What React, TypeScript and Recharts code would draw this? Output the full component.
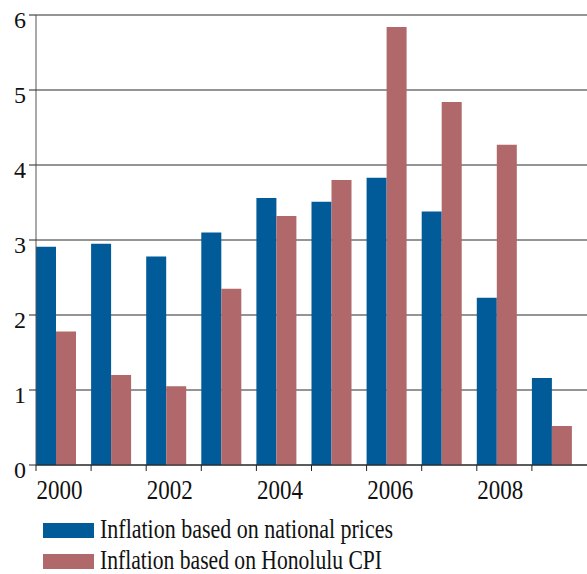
import React from "react";
import { BarChart, Bar, XAxis, YAxis, CartesianGrid } from "recharts";

const years = ["2000", "2001", "2002", "2003", "2004", "2005", "2006", "2007", "2008", "2009"];
const nationalPrices = [2.91, 2.95, 2.78, 3.1, 3.56, 3.51, 3.83, 3.38, 2.23, 1.16];
const honoluluCpi = [1.78, 1.2, 1.05, 2.35, 3.32, 3.8, 5.84, 4.84, 4.27, 0.52];
const yTicks = [0, 1, 2, 3, 4, 5, 6];

const BLUE = "#005B98";
const RED = "#B0686B";
const FONT = "Liberation Serif, DejaVu Serif, serif";

const W = 587;
const PLOT_LEFT = 36;
const BAND = (W - PLOT_LEFT) / years.length;

const data = years.map((year, i) => ({
  year,
  national: nationalPrices[i],
  honolulu: honoluluCpi[i],
  spacer: 0,
}));

const XTick = (props: any) => {
  const { x, y, payload, index } = props;
  const left = x - BAND / 2;
  return (
    <g>
      <line x1={left} x2={left} y1={y} y2={y + 6} stroke="#222" strokeWidth={1} />
      {index % 2 === 0 && (
        <text
          x={x - 27}
          y={y + 34}
          style={{ fontFamily: FONT, fontSize: 27 }}
          fill="#111"
          textLength={46}
          lengthAdjust="spacingAndGlyphs"
        >
          {payload.value}
        </text>
      )}
    </g>
  );
};

const YTick = (props: any) => {
  const { x, y, payload } = props;
  return (
    <text x={x} y={y + 13} textAnchor="end" style={{ fontFamily: FONT, fontSize: 24 }} fill="#111">
      {payload.value}
    </text>
  );
};

const legendItems = [
  { label: "Inflation based on national prices", color: BLUE, width: 293 },
  { label: "Inflation based on Honolulu CPI", color: RED, width: 282 },
];

export default function App() {
  return (
    <div style={{ position: "absolute", left: 0, top: 0, width: W, height: 574, background: "#fff" }}>
      <BarChart
        width={W}
        height={510}
        data={data}
        margin={{ top: 15, right: 0, left: 0, bottom: 0 }}
        barGap={0}
        barCategoryGap={0}
      >
        <CartesianGrid horizontal vertical={false} stroke="#2a2a2a" strokeWidth={1} />
        <XAxis
          dataKey="year"
          height={45}
          tickLine={false}
          tickSize={0}
          tickMargin={0}
          axisLine={{ stroke: "#222" }}
          tick={<XTick />}
          interval={0}
        />
        <YAxis
          width={PLOT_LEFT}
          domain={[0, 6]}
          ticks={yTicks}
          tickSize={7}
          tickMargin={3}
          tickLine={{ stroke: "#222" }}
          axisLine={{ stroke: "#555" }}
          tick={<YTick />}
          interval={0}
        />
        <Bar dataKey="national" fill={BLUE} barSize={20} isAnimationActive={false} />
        <Bar dataKey="honolulu" fill={RED} barSize={20} isAnimationActive={false} />
        <Bar dataKey="spacer" fill="none" barSize={15} isAnimationActive={false} legendType="none" />
      </BarChart>
      <svg width={W} height={64} style={{ position: "absolute", left: 0, top: 510 }}>
        {legendItems.map((item, i) => (
          <g key={item.label}>
            <rect x={43} y={13 + i * 31} width={51} height={15} fill={item.color} />
            <text
              x={100}
              y={28 + i * 31}
              style={{ fontFamily: FONT, fontSize: 27 }}
              fill="#111"
              textLength={item.width}
              lengthAdjust="spacingAndGlyphs"
            >
              {item.label}
            </text>
          </g>
        ))}
      </svg>
    </div>
  );
}
